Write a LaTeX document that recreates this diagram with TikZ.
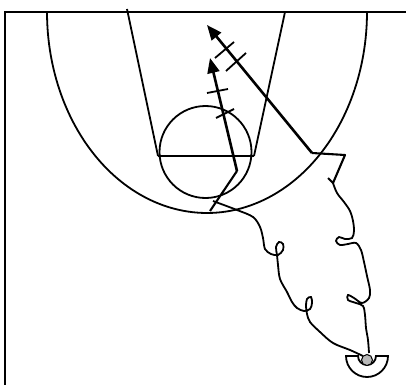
\documentclass[tikz,border=0pt]{standalone}
\usetikzlibrary{arrows.meta}
\begin{document}
\begin{tikzpicture}[x=1pt,y=-1pt,
 court/.style={line width=1.8pt},
 mv/.style={line width=2.6pt,line join=round,-{Triangle[length=15pt,width=12pt]}},
 seg/.style={line width=2.1pt,line join=round},
 hash/.style={line width=1.8pt},
 drib/.style={line width=1.8pt}]
\useasboundingbox (0,0) rectangle (406,385);
% court
\coordinate (tl) at (5,12);
\coordinate (tr) at (406,12);
\coordinate (bl) at (5,385);
\draw[court] (tr) -- (tl) -- (bl);
\draw[line width=2.6pt] (38,12) -- (47,12);
\draw[line width=2.6pt] (362,12) -- (376,12);
% three point arc
\draw[court] plot[domain=180:360,samples=120] ({207+160*cos(\x)},{12-201*sin(\x)});
% lane
\coordinate (lt) at (127,9);
\coordinate (lb) at (158,156);
\coordinate (rt) at (285,12);
\coordinate (rb) at (254,156);
\draw[court] (lt) -- (lb);
\draw[court] (rt) -- (rb);
\draw[court] (lb) -- (rb);
\draw[court] (205.5,152) circle[radius=46pt];
% long cut arrow
\coordinate (h1) at (328,178);
\coordinate (j1) at (333,183);
\coordinate (c1) at (345,155);
\coordinate (c2) at (312,153);
\coordinate (t1) at (207,25);
\draw[seg] (h1) -- (j1) -- (c1) -- (c2);
\draw[mv] (c2) -- (t1);
\draw[hash] (215,58) -- (234,42);
\draw[hash] (226,71) -- (246,53);
% short arrow
\coordinate (s0) at (210,211);
\coordinate (s1) at (237,171);
\coordinate (t2) at (210,58);
\draw[seg] (s0) -- (s1);
\draw[mv] (s1) -- (t2);
\draw[hash] (207,93) -- (228,89);
\draw[hash] (216,118) -- (234,109);
% dribble paths
\draw[drib] plot[smooth,tension=0.55] coordinates {(213,201) (237,210) (253,217) (260,227) (263,238) (265,249) (271,254) (278,255) (283,250) (283,244) (279,242) (276,247) (277,255) (278,265) (280,279) (287,292) (292,302) (297,308) (304,311) (310,309) (312,303) (311,297) (307,299) (306,306) (307,314) (310,322) (320,332) (333,343) (350,350) (363,356)};
\draw[drib] plot[smooth,tension=0.55] coordinates {(333,183) (337,193) (344,202) (350,211) (353,221) (354,231) (352,238) (345,239) (339,237) (336,241) (340,245) (348,244) (356,243) (361,250) (364,262) (367,276) (370,290) (369,298) (362,303) (354,298) (348,295) (348,300) (356,303) (363,306) (365,315) (366,328) (368,340) (369,353)};
% ball handler
\draw[court,fill=white] (346,356) -- (358,356) arc[start angle=180,end angle=360,radius=9pt] -- (388,356) arc[start angle=0,end angle=-180,radius=21pt] -- cycle;
\node[circle,draw,line width=1pt,fill=gray!55,minimum size=11pt,inner sep=0pt] (ball) at (367,360) {};
\end{tikzpicture}
\end{document}
